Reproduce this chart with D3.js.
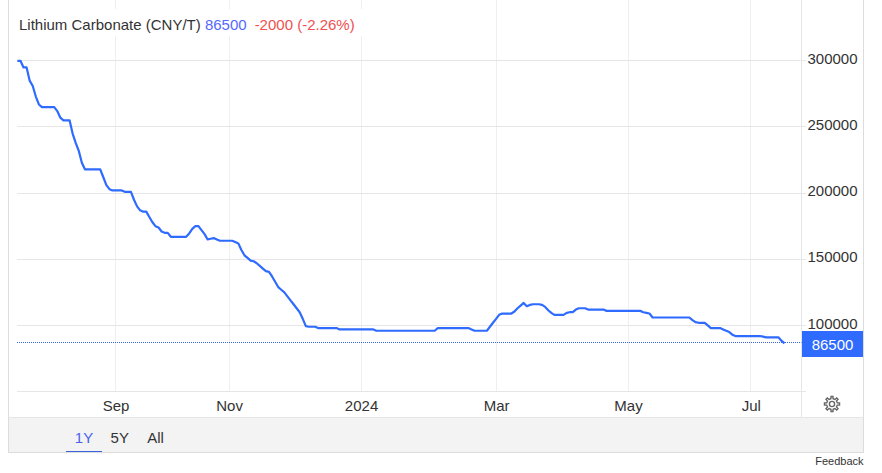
<!DOCTYPE html>
<html>
<head>
<meta charset="utf-8">
<script src="https://cdnjs.cloudflare.com/ajax/libs/d3/7.8.5/d3.min.js"></script>
<style>
html,body{margin:0;padding:0;background:#fff;overflow:hidden}
svg{display:block;font-family:"Liberation Sans",Arial,sans-serif}
</style>
</head>
<body>
<svg id="c" width="882" height="473"></svg>
<script>
// One close per trading day, oldest first
const prices = [
 300000,300000,295000,295000,285000,281000,273000,267000,265000,265000,
 265000,265000,265000,262000,257000,255000,255000,255000,245000,238000,
 232000,223000,218000,218000,218000,218000,218000,218000,212000,206000,
 203000,202000,202000,202000,202000,201000,201000,201000,195000,190000,
 187000,186000,186000,182000,178000,175000,174000,171000,170000,170000,
 167000,167000,167000,167000,167000,167000,169500,173000,175000,175000,
 172000,169000,165000,165500,166000,165000,164000,164000,164000,164000,
 164000,163000,162000,157000,153000,151000,149000,148500,147000,145000,
 143000,141000,140500,137000,133000,129000,127000,125000,122000,119000,
 116000,113000,110000,105000,99500,99000,99000,99000,98000,98000,
 98000,98000,98000,98000,98000,97000,97000,97000,97000,97000,
 97000,97000,97000,97000,97000,97000,97000,96000,96000,96000,
 96000,96000,96000,96000,96000,96000,96000,96000,96000,96000,
 96000,96000,96000,96000,96000,96000,96000,98000,98000,98000,
 98000,98000,98000,98000,98000,98000,98000,98000,97000,96000,
 96000,96000,96000,96000,99000,102000,105000,108000,109000,109000,
 109000,109000,110500,113000,115000,117000,114500,115500,116000,116000,
 116000,115500,114000,111500,109500,108000,108000,108000,108000,109500,
 110000,110000,112000,113000,113000,113000,112000,112000,112000,112000,
 112000,112000,111000,111000,111000,111000,111000,111000,111000,111000,
 111000,111000,111000,111000,110000,109500,109000,106000,106000,106000,
 106000,106000,106000,106000,106000,106000,106000,106000,106000,106000,
 104000,102500,102000,102000,102000,100000,98000,98000,98000,98000,
 97000,96000,95000,93000,92000,92000,92000,92000,92000,92000,
 92000,92000,92000,91500,91000,91000,91000,91000,91000,88500,
 86500];
const monthLabels = ["Sep","Nov","2024","Mar","May","Jul"];
const monthTradingIndex = [32,69,112,156,199,239];
const priceTicks = [300000,250000,200000,150000,100000];
const gridTicks = [300000,250000,200000,150000,100000,50000];
const rangeLabels = ["1Y","5Y","All"];
const titleName = "Lithium Carbonate (CNY/T)";
const lastValue = 86500, changeText = "-2000", changePct = "(-2.26%)";

const W=882,H=473;
const svg=d3.select("#c");
const x=d3.scaleLinear().domain([0,prices.length-1]).range([17.4,784.5]);
const y=d3.scaleLinear().domain([50000,300000]).range([391.6,60.8]);
const plotL=17,axisX=801.5,axisEnd=806,plotBottom=391.4;
const frameL=8.5,frameR=863.5,toolTop=417.5,frameB=452.5;
const fs=15;

// toolbar band
svg.append("rect").attr("x",frameL).attr("y",toolTop).attr("width",frameR-frameL).attr("height",frameB-toolTop).attr("fill","#f3f3f3");

// vertical grid
svg.append("g").selectAll("line").data(monthTradingIndex).join("line")
 .attr("x1",d=>Math.floor(x(d))+.5).attr("x2",d=>Math.floor(x(d))+.5)
 .attr("y1",0).attr("y2",plotBottom).attr("stroke","#efefef");
// horizontal grid
svg.append("g").selectAll("line").data(gridTicks).join("line")
 .attr("x1",plotL).attr("x2",axisEnd)
 .attr("y1",d=>Math.floor(y(d))+.5).attr("y2",d=>Math.floor(y(d))+.5)
 .attr("stroke","#e6e6e6");

// title mask
svg.append("rect").attr("x",12).attr("y",9).attr("width",350).attr("height",27).attr("fill","#fff");

// frame
const fc="#dcdcdc";
const fr=svg.append("g").attr("stroke",fc).attr("fill","none");
fr.append("path").attr("d",`M${frameL},0V${frameB}H${frameR}V0`);
fr.append("line").attr("x1",axisX).attr("x2",axisX).attr("y1",0).attr("y2",toolTop).attr("stroke","#e6e6e6");
fr.append("line").attr("x1",frameL).attr("x2",frameR).attr("y1",toolTop).attr("y2",toolTop).attr("stroke","#e6e6e6");

// last value dotted line
svg.append("line").attr("x1",plotL).attr("x2",axisX)
 .attr("y1",342.5).attr("y2",342.5)
 .attr("stroke","#3a62d8").attr("stroke-dasharray","1 1");

// price line
svg.append("path").datum(prices)
 .attr("fill","none").attr("stroke","#2f6bff").attr("stroke-width",2.2).attr("stroke-linejoin","round")
 .attr("d",d3.line().x((d,i)=>x(i)).y(d=>y(d)));

// axes
const xAxis=svg.append("g").attr("transform",`translate(0,${plotBottom})`)
 .call(d3.axisBottom(x).tickValues(monthTradingIndex).tickFormat((d,i)=>monthLabels[i]).tickSize(0).tickPadding(9));
xAxis.select(".domain").remove();
xAxis.selectAll("text").attr("font-size",fs).attr("font-family","Liberation Sans, Arial, sans-serif").attr("fill","#333").attr("dy","0.71em");

const yAxis=svg.append("g").attr("transform",`translate(${axisEnd+1.5},0)`)
 .call(d3.axisRight(y).tickValues(priceTicks).tickFormat(d3.format("d")).tickSize(0).tickPadding(0));
yAxis.select(".domain").remove();
yAxis.selectAll("text").attr("font-size",fs).attr("font-family","Liberation Sans, Arial, sans-serif").attr("fill","#333").attr("dy","0.17em");

// last value badge
svg.append("rect").attr("x",802).attr("y",331).attr("width",61).attr("height",26).attr("fill","#2f6bff");
svg.append("text").attr("x",832.5).attr("y",349.5).attr("text-anchor","middle")
 .attr("font-size",fs).attr("fill","#fff").text(lastValue);

// title
const t=svg.append("text").attr("x",19).attr("y",30).attr("font-size",fs).attr("fill","#333");
t.append("tspan").text(titleName+" ");
t.append("tspan").attr("fill","#5468ff").text(lastValue);
t.append("tspan").attr("fill","#f05050").attr("dx",8).text(changeText+" "+changePct);

// range buttons
const bx=d3.scalePoint().domain(rangeLabels).range([84,155.5]);
svg.append("g").selectAll("text").data(rangeLabels).join("text")
 .attr("x",d=>bx(d)).attr("y",443).attr("text-anchor","middle").attr("font-size",fs)
 .attr("fill",(d,i)=>i===0?"#4a62f0":"#333").text(d=>d);
svg.append("line").attr("x1",66).attr("x2",102).attr("y1",451.5).attr("y2",451.5).attr("stroke","#3a62e0").attr("stroke-width",1.2);

// gear
const gear=svg.append("g").attr("transform","translate(832,404)").attr("fill","none").attr("stroke","#666").attr("stroke-width",1.4);
const gpts=[];
for(let k=0;k<8;k++){
  const a=k*Math.PI/4;
  [[-.13,7.6],[.13,7.6],[.2,5.4],[.58,5.4]].forEach(([o,r])=>{
    gpts.push([r*Math.cos(a+o-Math.PI/2),r*Math.sin(a+o-Math.PI/2)]);
  });
}
gear.append("path").attr("d",d3.line().curve(d3.curveLinearClosed)(gpts));
gear.append("circle").attr("r",2.6);

// feedback
svg.append("text").attr("x",863.5).attr("y",465).attr("text-anchor","end").attr("font-size",11).attr("fill","#333").text("Feedback");
</script>
</body>
</html>
